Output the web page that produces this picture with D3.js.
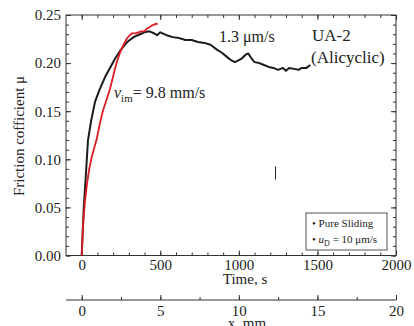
<!DOCTYPE html>
<html>
<head>
<meta charset="utf-8">
<script src="https://cdn.jsdelivr.net/npm/d3@7"></script>
<style>
	body { margin: 0; background: #fff; }
	svg text { font-family: "Liberation Serif", "DejaVu Serif", serif; fill: #222; }
	.axis path, .axis line { stroke: #333; }
</style>
</head>
<body>
<div id="chart"></div>
<script>
// black curve: 1.3 um/s, time (s) vs friction coefficient
var blackTime = [0, 5, 13, 25, 40, 60, 85, 115, 150, 180, 210, 250, 290, 330, 370, 400, 430, 460, 480, 500,
	540, 580, 620, 660, 700, 740, 780, 820, 860, 890, 920, 950, 975, 1000, 1020, 1045, 1060, 1080, 1100,
	1130, 1160, 1190, 1220, 1250, 1280, 1300, 1320, 1350, 1380, 1400, 1430, 1455];
var blackMu = [0, 0.02, 0.05, 0.08, 0.12, 0.14, 0.16, 0.173, 0.186, 0.195, 0.204, 0.214, 0.222, 0.227, 0.230, 0.232, 0.233, 0.231, 0.229, 0.232,
	0.229, 0.227, 0.226, 0.224, 0.224, 0.222, 0.221, 0.219, 0.214, 0.211, 0.207, 0.203, 0.201, 0.203, 0.205, 0.209, 0.210, 0.205, 0.201,
	0.200, 0.198, 0.196, 0.195, 0.193, 0.195, 0.192, 0.195, 0.194, 0.193, 0.195, 0.195, 0.198];

// red curve: 9.8 mm/s
var redTime = [0, 8, 20, 34, 48, 62, 78, 94, 115, 136, 158, 178, 195, 210, 225, 242, 260, 285, 305, 320,
	340, 360, 380, 400, 415, 430, 445, 460, 475, 482];
var redMu = [0, 0.03, 0.055, 0.075, 0.09, 0.101, 0.111, 0.12, 0.137, 0.151, 0.162, 0.172, 0.183, 0.193, 0.202, 0.210, 0.217, 0.225, 0.229, 0.231,
	0.231, 0.232, 0.233, 0.233, 0.236, 0.237, 0.239, 0.240, 0.241, 0.240];

var timeTicks = [0, 500, 1000, 1500, 2000];
var muTicks = [0, 0.05, 0.10, 0.15, 0.20, 0.25];
var mmTicks = [0, 5, 10, 15, 20];

var width = 414, height = 326;
var plotLeft = 66, plotRight = 396, plotTop = 15, plotBottom = 255.5;

var svg = d3.select('#chart').append('svg')
	.attr('width', width)
	.attr('height', height);

var x = d3.scaleLinear().domain([-100, 2000]).range([plotLeft, plotRight]);
var y = d3.scaleLinear().domain([0, 0.25]).range([plotBottom, plotTop]);
var xmm = d3.scaleLinear().domain([-1, 20]).range([plotLeft, plotRight]);

var minorTime = d3.range(0, 2001, 100);
var minorMu = d3.range(0, 0.2501, 0.01);
var minorMm = d3.range(0, 20.01, 2.5);

function styleAxis(g) {
	g.attr('class', 'axis');
	g.select('.domain').remove();
	g.selectAll('line').attr('stroke', '#333').attr('stroke-width', 1);
	g.selectAll('text').style('font-size', '15px').attr('fill', '#222');
}

// frame
svg.append('rect')
	.attr('x', plotLeft).attr('y', plotTop)
	.attr('width', plotRight - plotLeft).attr('height', plotBottom - plotTop)
	.attr('fill', 'none').attr('stroke', '#333').attr('stroke-width', 1);

// bottom axis, minor + major
svg.append('g').attr('transform', 'translate(0,' + plotBottom + ')')
	.call(d3.axisBottom(x).tickValues(minorTime).tickSize(-3).tickFormat(''))
	.call(styleAxis);
svg.append('g').attr('transform', 'translate(0,' + plotBottom + ')')
	.call(d3.axisBottom(x).tickValues(timeTicks).tickSize(-5).tickPadding(4).tickFormat(d3.format('d')))
	.call(styleAxis);

// top axis
svg.append('g').attr('transform', 'translate(0,' + plotTop + ')')
	.call(d3.axisTop(x).tickValues(minorTime).tickSize(-3).tickFormat(''))
	.call(styleAxis);
svg.append('g').attr('transform', 'translate(0,' + plotTop + ')')
	.call(d3.axisTop(x).tickValues(timeTicks).tickSize(-5).tickFormat(''))
	.call(styleAxis);

// left axis
svg.append('g').attr('transform', 'translate(' + plotLeft + ',0)')
	.call(d3.axisLeft(y).tickValues(minorMu).tickSize(-3).tickFormat(''))
	.call(styleAxis);
svg.append('g').attr('transform', 'translate(' + plotLeft + ',0)')
	.call(d3.axisLeft(y).tickValues(muTicks).tickSize(-5).tickPadding(5).tickFormat(d3.format('.2f')))
	.call(styleAxis);

// right axis
svg.append('g').attr('transform', 'translate(' + plotRight + ',0)')
	.call(d3.axisRight(y).tickValues(minorMu).tickSize(-3).tickFormat(''))
	.call(styleAxis);
svg.append('g').attr('transform', 'translate(' + plotRight + ',0)')
	.call(d3.axisRight(y).tickValues(muTicks).tickSize(-5).tickFormat(''))
	.call(styleAxis);

// second x axis (mm)
var mmY = 300;
svg.append('line')
	.attr('x1', plotLeft).attr('x2', plotRight)
	.attr('y1', mmY).attr('y2', mmY)
	.attr('stroke', '#333').attr('stroke-width', 1);
svg.append('g').attr('transform', 'translate(0,' + mmY + ')')
	.call(d3.axisBottom(xmm).tickValues(minorMm).tickSize(-3).tickFormat(''))
	.call(styleAxis);
svg.append('g').attr('transform', 'translate(0,' + mmY + ')')
	.call(d3.axisBottom(xmm).tickValues(mmTicks).tickSize(-5).tickPadding(5).tickFormat(d3.format('d')))
	.call(styleAxis);

// axis titles
svg.append('text')
	.attr('x', 245).attr('y', 284)
	.attr('text-anchor', 'middle')
	.style('font-size', '15px')
	.text('Time, s');
svg.append('text')
	.attr('x', 247).attr('y', 328)
	.attr('text-anchor', 'middle')
	.style('font-size', '15px')
	.text('x, mm');
svg.append('text')
	.attr('transform', 'translate(24,136) rotate(-90)')
	.attr('text-anchor', 'middle')
	.style('font-size', '15px')
	.text('Friction cofficient \u03bc');

// curves
var line = d3.line()
	.x(function (d) { return x(d[0]); })
	.y(function (d) { return y(d[1]); })
	.curve(d3.curveLinear);

var blackData = blackTime.map(function (t, i) { return [t, blackMu[i]]; });
var redData = redTime.map(function (t, i) { return [t, redMu[i]]; });

svg.append('path')
	.datum(blackData)
	.attr('d', line)
	.attr('fill', 'none')
	.attr('stroke', '#1e1a1a')
	.attr('stroke-width', 2)
	.attr('stroke-linejoin', 'round');

svg.append('path')
	.datum(redData)
	.attr('d', line)
	.attr('fill', 'none')
	.attr('stroke', '#e11b25')
	.attr('stroke-width', 1.8)
	.attr('stroke-linejoin', 'round');

// annotations
svg.append('text')
	.attr('x', 219).attr('y', 42)
	.style('font-size', '16px')
	.text('1.3 \u03bcm/s');

svg.append('text')
	.attr('x', 312).attr('y', 41)
	.style('font-size', '17px')
	.text('UA-2');
svg.append('text')
	.attr('x', 311).attr('y', 63)
	.style('font-size', '17px')
	.text('(Alicyclic)');

var vt = svg.append('text')
	.attr('x', 114).attr('y', 98)
	.style('font-size', '16px');
vt.append('tspan').style('font-style', 'italic').text('v');
vt.append('tspan').attr('dy', 4).style('font-size', '11px').text('im');
vt.append('tspan').attr('dy', -4).text('=  9.8 mm/s');

// legend
svg.append('rect')
	.attr('x', 306).attr('y', 213)
	.attr('width', 81).attr('height', 37)
	.attr('fill', '#fff')
	.attr('stroke', '#555')
	.attr('stroke-width', 1);
svg.append('text')
	.attr('x', 312).attr('y', 227)
	.style('font-size', '11px')
	.text('\u2022 Pure Sliding');
var lt = svg.append('text')
	.attr('x', 312).attr('y', 243)
	.style('font-size', '11px');
lt.append('tspan').text('\u2022 ');
lt.append('tspan').style('font-style', 'italic').text('u');
lt.append('tspan').attr('dy', 3).style('font-size', '8px').text('D');
lt.append('tspan').attr('dy', -3).text(' = 10 \u03bcm/s');

// stray mark in the figure
svg.append('line')
	.attr('x1', 275.5).attr('x2', 275.5)
	.attr('y1', 166.5).attr('y2', 179.5)
	.attr('stroke', '#222').attr('stroke-width', 1);
</script>
</body>
</html>
